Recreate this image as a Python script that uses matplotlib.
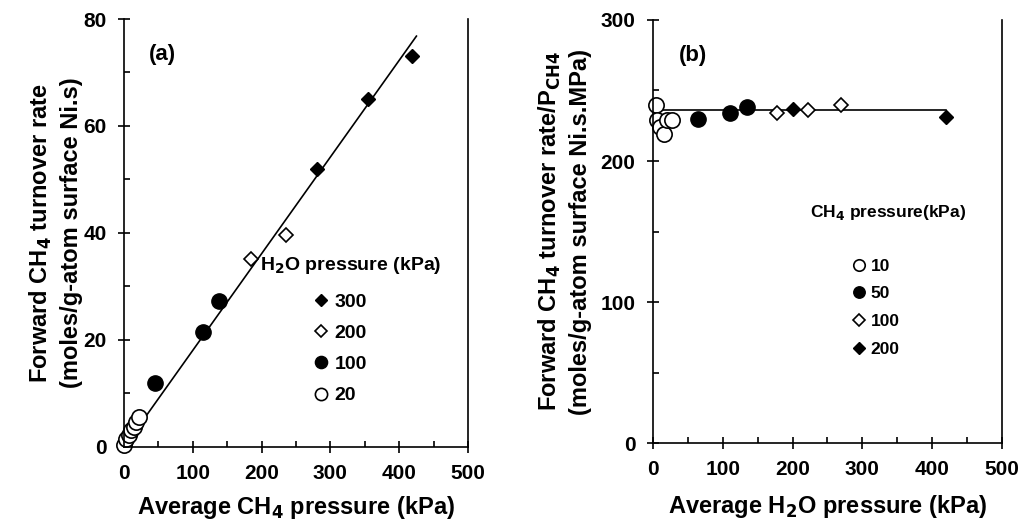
import matplotlib.pyplot as plt
import numpy as np

plt.rcParams['font.family'] = ['Liberation Sans', 'DejaVu Sans']
plt.rcParams['font.weight'] = 'bold'
plt.rcParams['mathtext.default'] = 'bf'

# (a) forward turnover rate vs average CH4 pressure, grouped by H2O pressure
a_300_x = [280, 355, 418]
a_300_y = [52, 65, 73]
a_200_x = [185, 235]
a_200_y = [35.2, 39.7]
a_100_x = [45, 115, 138]
a_100_y = [12, 21.5, 27.2]
a_20_x = [0, 3, 7, 10, 14, 18, 22]
a_20_y = [0.3, 1.4, 2.2, 3.1, 3.8, 4.6, 5.6]
a_fit_x = [0, 425]
a_fit_y = [0, 76.8]

# (b) rate / P_CH4 vs average H2O pressure, grouped by CH4 pressure
b_10_x = [4, 6, 10, 16, 20, 27]
b_10_y = [240, 229, 224, 219, 229, 229]
b_50_x = [64, 110, 134]
b_50_y = [230, 234, 238]
b_100_x = [178, 222, 270]
b_100_y = [234, 236, 240]
b_200_x = [200, 420]
b_200_y = [237, 231]
b_fit_x = [0, 420]
b_fit_y = [236, 236]

fig = plt.figure(figsize=(10.19, 5.22), dpi=100)
ax1 = fig.add_axes([0.1217, 0.1437, 0.3376, 0.8199])
ax2 = fig.add_axes([0.6408, 0.1513, 0.3425, 0.8104])

ms = 11
circ_open = dict(marker='o', mfc='white', mec='black', mew=1.2, ls='none', ms=ms)
circ_fill = dict(marker='o', mfc='black', mec='black', ls='none', ms=ms)
dia_open = dict(marker='D', mfc='white', mec='black', mew=1.2, ls='none', ms=7.5)
dia_fill = dict(marker='D', mfc='black', mec='black', ls='none', ms=7.5)

ax1.plot(a_fit_x, a_fit_y, color='black', lw=1.2, zorder=1)
ax1.plot(a_300_x, a_300_y, label='300', clip_on=False, **dia_fill)
ax1.plot(a_200_x, a_200_y, label='200', clip_on=False, **dia_open)
ax1.plot(a_100_x, a_100_y, label='100', clip_on=False, **circ_fill)
ax1.plot(a_20_x, a_20_y, label='20', clip_on=False, **circ_open)

ax2.plot(b_fit_x, b_fit_y, color='black', lw=1.2, zorder=1)
ax2.plot(b_10_x, b_10_y, label='10', clip_on=False, **circ_open)
ax2.plot(b_50_x, b_50_y, label='50', clip_on=False, **circ_fill)
ax2.plot(b_100_x, b_100_y, label='100', clip_on=False, **dia_open)
ax2.plot(b_200_x, b_200_y, label='200', clip_on=False, **dia_fill)

ax1.set_xlim(0, 500)
ax1.set_ylim(0, 80)
ax1.set_xticks(np.arange(0, 501, 100))
ax1.set_xticks(np.arange(50, 500, 100), minor=True)
ax1.set_yticks(np.arange(0, 81, 20))
ax1.set_yticks(np.arange(10, 80, 20), minor=True)

ax2.set_xlim(0, 500)
ax2.set_ylim(0, 300)
ax2.set_xticks(np.arange(0, 501, 100))
ax2.set_xticks(np.arange(50, 500, 100), minor=True)
ax2.set_yticks(np.arange(0, 301, 100))
ax2.set_yticks(np.arange(50, 300, 100), minor=True)

for ax in (ax1, ax2):
    ax.spines['top'].set_visible(False)
    for s in ('left', 'bottom', 'right'):
        ax.spines[s].set_linewidth(1.2)
    ax.tick_params(which='major', direction='inout', length=9, width=1.2,
                   labelsize=15, pad=8)
    ax.tick_params(which='minor', direction='in', length=4, width=1.2)
    for lab in ax.get_xticklabels() + ax.get_yticklabels():
        lab.set_fontweight('bold')

ax1.set_xlabel('Average CH$_4$ pressure (kPa)', fontsize=17, fontweight='bold')
ax1.set_ylabel('Forward CH$_4$ turnover rate\n(moles/g-atom surface Ni.s)',
               fontsize=17, fontweight='bold', linespacing=1.3)
ax2.set_xlabel('Average H$_2$O pressure (kPa)', fontsize=17, fontweight='bold')
ax2.set_ylabel('Forward CH$_4$ turnover rate/P$_{\\mathrm{CH4}}$\n(moles/g-atom surface Ni.s.MPa)',
               fontsize=17, fontweight='bold', linespacing=1.3)
ax1.xaxis.set_label_coords(0.5, -0.11)
ax2.xaxis.set_label_coords(0.5, -0.117)
ax1.yaxis.set_label_coords(-0.12, 0.5)
ax2.yaxis.set_label_coords(-0.175, 0.5)

ax1.text(0.113, 0.916, '(a)', transform=ax1.transAxes, fontsize=16,
         fontweight='bold', ha='center', va='center')
ax2.text(0.115, 0.917, '(b)', transform=ax2.transAxes, fontsize=16,
         fontweight='bold', ha='center', va='center')

# legend titles as separate texts so the entries can sit where they belong
ax1.text(0.66, 0.425, 'H$_2$O pressure (kPa)', transform=ax1.transAxes,
         fontsize=14, fontweight='bold', ha='center', va='center')
ax1.legend(loc='center', bbox_to_anchor=(0.625, 0.229), frameon=False,
           fontsize=14, handletextpad=0.2, labelspacing=0.69,
           handlelength=1.0, markerscale=0.8, borderpad=0)

ax2.text(0.673, 0.544, 'CH$_4$ pressure(kPa)', transform=ax2.transAxes,
         fontsize=12.5, fontweight='bold', ha='center', va='center')
ax2.legend(loc='center', bbox_to_anchor=(0.636, 0.32), frameon=False,
           fontsize=12.5, handletextpad=0.2, labelspacing=0.72,
           handlelength=1.0, markerscale=0.75, borderpad=0)

fig.savefig('out.png', dpi=100)
